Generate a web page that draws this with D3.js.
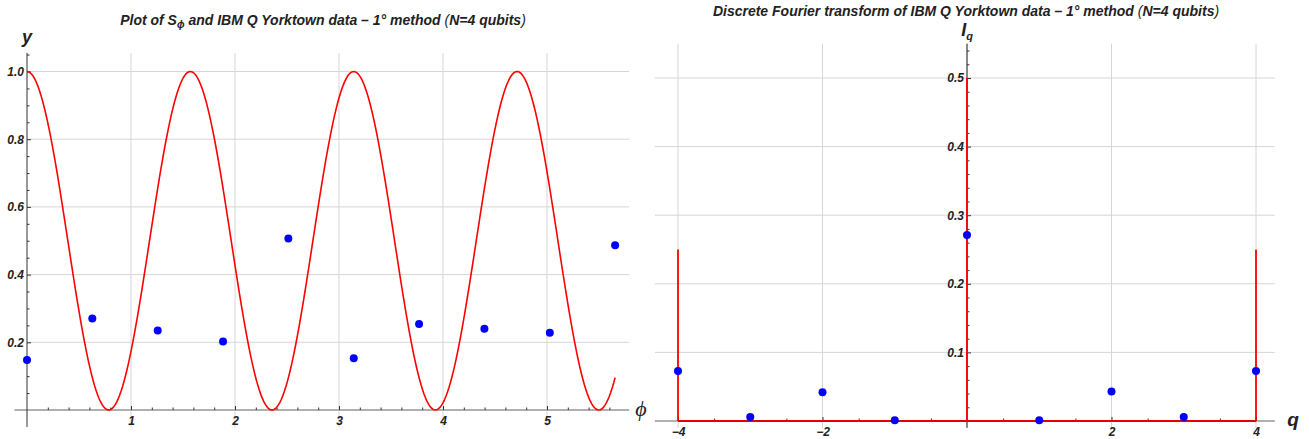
<!DOCTYPE html>
<html>
<head>
<meta charset="utf-8">
<script src="https://cdn.jsdelivr.net/npm/d3@7"></script>
<style>
  body { margin: 0; background: #fff; }
  svg text { font-family: "Liberation Sans", Arial, sans-serif; }
  .tk text { font-size: 12px; font-weight: bold; font-style: italic; fill: #222; }
  .tk path.domain { display: none; }
  .tk line { stroke: #333; }
</style>
</head>
<body>
<div id="vis"></div>
<script>
// data

// left panel: phi samples and IBM Q Yorktown values
var phiValues = [0, 0.628, 1.257, 1.885, 2.513, 3.142, 3.770, 4.398, 5.027, 5.655];
var yorktownS = [0.148, 0.270, 0.235, 0.202, 0.507, 0.153, 0.254, 0.240, 0.228, 0.487];

// right panel: DFT of the data
var qValues = [-4, -3, -2, -1, 0, 1, 2, 3, 4];
var dftI = [0.073, 0.006, 0.042, 0.001, 0.271, 0.001, 0.043, 0.006, 0.073];

// theoretical DFT spikes
var theoryQ = [-4, 0, 4];
var theoryI = [0.25, 0.5, 0.25];

// tick labels
var leftXTicks = [1, 2, 3, 4, 5];
var leftYTicks = [0.2, 0.4, 0.6, 0.8, 1.0];
var rightXTicks = [-4, -2, 2, 4];
var rightYTicks = [0.1, 0.2, 0.3, 0.4, 0.5];

// theoretical curve S_phi = cos^2(2 phi)
function S(phi) { var c = Math.cos(2 * phi); return c * c; }

var svg = d3.select("#vis").append("svg")
    .attr("width", 1309)
    .attr("height", 439);

var gridColor = "#d6d6d6";

/* ---------- left panel ---------- */
var xL = d3.scaleLinear().domain([0, 1]).range([27, 131]);
var yL = d3.scaleLinear().domain([0, 1]).range([410, 71.5]);
var L = svg.append("g");

// grid
L.selectAll(".vg").data(leftXTicks).enter().append("line")
    .attr("x1", xL).attr("x2", xL)
    .attr("y1", yL(1.055)).attr("y2", yL(-0.05))
    .attr("stroke", gridColor);
L.selectAll(".hg").data(leftYTicks).enter().append("line")
    .attr("x1", xL(0)).attr("x2", xL(5.79))
    .attr("y1", yL).attr("y2", yL)
    .attr("stroke", gridColor);

// x axis line (gray)
L.append("line")
    .attr("x1", xL(-0.12)).attr("x2", xL(5.79))
    .attr("y1", yL(0)).attr("y2", yL(0))
    .attr("stroke", "#b0b0b0").attr("stroke-width", 2);
// y axis line
L.append("line")
    .attr("x1", xL(0)).attr("x2", xL(0))
    .attr("y1", yL(1.055)).attr("y2", yL(-0.05))
    .attr("stroke", "#333").attr("stroke-width", 1);

// ticks
L.append("g").attr("class", "tk")
    .attr("transform", "translate(0," + yL(0) + ")")
    .call(d3.axisBottom(xL).tickValues(leftXTicks).tickSize(-4).tickPadding(6)
      .tickFormat(d3.format("d")));
L.append("g").attr("class", "tk")
    .attr("transform", "translate(0," + yL(0) + ")")
    .call(d3.axisBottom(xL).tickValues(d3.range(1, 29).map(function(i) { return i * 0.2; })
      .filter(function(v) { return Math.abs(v - Math.round(v)) > 1e-6; }))
      .tickSize(-2.5).tickFormat(""));
L.append("g").attr("class", "tk")
    .attr("transform", "translate(" + xL(0) + ",0)")
    .call(d3.axisLeft(yL).tickValues(leftYTicks).tickSize(-4).tickPadding(3)
      .tickFormat(d3.format(".1f")));
L.append("g").attr("class", "tk")
    .attr("transform", "translate(" + xL(0) + ",0)")
    .call(d3.axisLeft(yL).tickValues(d3.range(1, 22).map(function(i) { return i * 0.05; })
      .filter(function(v) { return Math.abs(v * 5 - Math.round(v * 5)) > 1e-6; }))
      .tickSize(-2.5).tickFormat(""));

// curve
var curvePts = d3.range(0, 401).map(function(i) { var p = i / 400 * phiValues[phiValues.length - 1]; return [p, S(p)]; });
L.append("path")
    .datum(curvePts)
    .attr("fill", "none")
    .attr("stroke", "#ff0000")
    .attr("stroke-width", 1.6)
    .attr("d", d3.line().x(function(d) { return xL(d[0]); }).y(function(d) { return yL(d[1]); }));

// data points
L.selectAll(".pt").data(phiValues).enter().append("circle")
    .attr("cx", function(d) { return xL(d); })
    .attr("cy", function(d, i) { return yL(yorktownS[i]); })
    .attr("r", 4)
    .attr("fill", "#0000ff");

// labels
L.append("text")
    .attr("x", xL(0)).attr("y", 43)
    .attr("text-anchor", "middle")
    .attr("font-size", 18).attr("font-weight", "bold").attr("font-style", "italic")
    .attr("fill", "#222")
    .text("y");
L.append("text")
    .attr("x", 641).attr("y", 416)
    .attr("text-anchor", "middle")
    .attr("font-size", 22).attr("font-style", "italic")
    .style("font-family", "'Liberation Serif', serif")
    .attr("fill", "#222")
    .text("\u03D5");

var t1 = L.append("text")
    .attr("x", 323).attr("y", 25)
    .attr("text-anchor", "middle")
    .attr("font-size", 14).attr("font-weight", "bold").attr("font-style", "italic")
    .attr("fill", "#222");
t1.append("tspan").text("Plot of S");
t1.append("tspan").attr("font-size", 10).attr("dy", 3).text("\u03D5");
t1.append("tspan").attr("dy", -3).text(" and IBM Q Yorktown data \u2013 1\u00B0 method ");
t1.append("tspan").attr("font-weight", "normal").text("(");
t1.append("tspan").text("N=4 qubits");
t1.append("tspan").attr("font-weight", "normal").text(")");

/* ---------- right panel ---------- */
var xR = d3.scaleLinear().domain([-4, 4]).range([678, 1256]);
var yR = d3.scaleLinear().domain([0, 0.5]).range([421, 78]);
var R = svg.append("g");

R.selectAll(".vg").data(rightXTicks).enter().append("line")
    .attr("x1", xR).attr("x2", xR)
    .attr("y1", yR(0.55)).attr("y2", yR(-0.01))
    .attr("stroke", gridColor);
R.selectAll(".hg").data(rightYTicks).enter().append("line")
    .attr("x1", xR(-4.32)).attr("x2", xR(4.26))
    .attr("y1", yR).attr("y2", yR)
    .attr("stroke", gridColor);

R.append("line")
    .attr("x1", xR(-4.32)).attr("x2", xR(4.26))
    .attr("y1", yR(0)).attr("y2", yR(0))
    .attr("stroke", "#b0b0b0").attr("stroke-width", 2);
R.append("line")
    .attr("x1", xR(0)).attr("x2", xR(0))
    .attr("y1", yR(0.55)).attr("y2", yR(-0.01))
    .attr("stroke", "#111").attr("stroke-width", 1);

R.append("g").attr("class", "tk")
    .attr("transform", "translate(0," + yR(0) + ")")
    .call(d3.axisBottom(xR).tickValues(rightXTicks).tickSize(-4).tickPadding(6)
      .tickFormat(d3.format("d")));
R.append("g").attr("class", "tk")
    .attr("transform", "translate(0," + yR(0) + ")")
    .call(d3.axisBottom(xR).tickValues(d3.range(-8, 9).map(function(i) { return i * 0.5; })
      .filter(function(v) { return v % 2 !== 0; }))
      .tickSize(-2.5).tickFormat(""));
R.append("g").attr("class", "tk")
    .attr("transform", "translate(" + xR(0) + ",0)")
    .call(d3.axisLeft(yR).tickValues(rightYTicks).tickSize(-4).tickPadding(3)
      .tickFormat(d3.format(".1f")));
R.append("g").attr("class", "tk")
    .attr("transform", "translate(" + xR(0) + ",0)")
    .call(d3.axisLeft(yR).tickValues(d3.range(1, 28).map(function(i) { return i * 0.02; })
      .filter(function(v) { return Math.abs(v * 10 - Math.round(v * 10)) > 1e-6; }))
      .tickSize(-2.5).tickFormat(""));

// theoretical spikes + baseline
R.append("line")
    .attr("x1", xR(-4)).attr("x2", xR(4))
    .attr("y1", yR(0)).attr("y2", yR(0))
    .attr("stroke", "#e00000").attr("stroke-width", 2.2);
R.selectAll(".sp").data(theoryQ).enter().append("line")
    .attr("x1", xR).attr("x2", xR)
    .attr("y1", yR(0))
    .attr("y2", function(d, i) { return yR(theoryI[i]); })
    .attr("stroke", "#ff0000").attr("stroke-width", 1.8);

R.selectAll(".pt").data(qValues).enter().append("circle")
    .attr("cx", xR)
    .attr("cy", function(d, i) { return yR(dftI[i]); })
    .attr("r", 4)
    .attr("fill", "#0000ff");

var iq = R.append("text")
    .attr("x", xR(0)).attr("y", 36)
    .attr("text-anchor", "middle")
    .attr("font-size", 18).attr("font-weight", "bold").attr("font-style", "italic")
    .attr("fill", "#222");
iq.append("tspan").text("I");
iq.append("tspan").attr("font-size", 11).attr("dy", 4).text("q");

R.append("text")
    .attr("x", 1293).attr("y", 426)
    .attr("text-anchor", "middle")
    .attr("font-size", 19).attr("font-weight", "bold").attr("font-style", "italic")
    .attr("fill", "#222")
    .text("q");

var t2 = R.append("text")
    .attr("x", 966).attr("y", 16)
    .attr("text-anchor", "middle")
    .attr("font-size", 14).attr("font-weight", "bold").attr("font-style", "italic")
    .attr("fill", "#222");
t2.append("tspan").text("Discrete Fourier transform of IBM Q Yorktown data \u2013 1\u00B0 method ");
t2.append("tspan").attr("font-weight", "normal").text("(");
t2.append("tspan").text("N=4 qubits");
t2.append("tspan").attr("font-weight", "normal").text(")");
</script>
</body>
</html>
